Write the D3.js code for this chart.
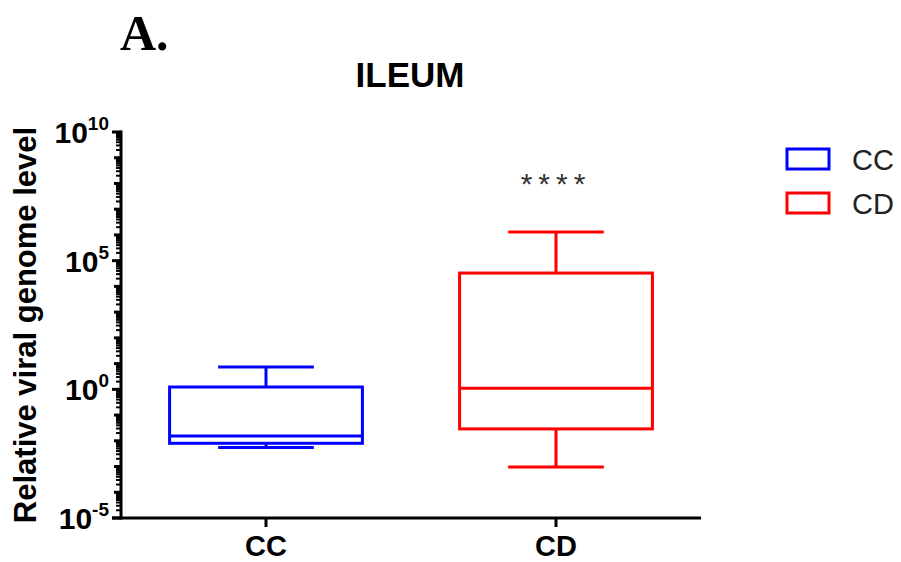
<!DOCTYPE html>
<html>
<head>
<meta charset="utf-8">
<script src="https://cdn.jsdelivr.net/npm/d3@7"></script>
<style>
  body { margin: 0; background: #fff; }
  text { font-family: Arial, "Liberation Sans", sans-serif; }
</style>
</head>
<body>
<div id="chart"></div>
<script>
var width = 901,
    height = 562;

// groups and their box-plot summaries (min, q1, median, q3, max)
var groups = ["CC", "CD"];
var colors = ["#0000ff", "#ff0000"];
var whiskerLow = [0.0055, 0.00095];
var quart1 = [0.0080, 0.029];
var medians = [0.0155, 1.1];
var quart3 = [1.23, 3.3e4];
var whiskerHigh = [7.4, 1.3e6];
var yMajor = [-5, 0, 5, 10]; // exponents of labelled ticks

var margin = {left: 121, right: 200, top: 132, bottom: 44};

var x = d3.scalePoint()
    .domain(groups)
    .range([margin.left, width - margin.right])
    .padding(0.5);

var y = d3.scaleLog()
    .domain([1e-5, 1e10])
    .range([height - margin.bottom, margin.top]);

var boxW = x.step() * 0.665,
    capW = x.step() * 0.33;

var svg = d3.select("#chart").append("svg")
    .attr("width", width)
    .attr("height", height);

// panel letter and title
svg.append("text")
    .attr("x", 120).attr("y", 50)
    .style("font-family", "'Liberation Serif', 'Times New Roman', serif")
    .style("font-weight", "bold")
    .style("font-size", "50px")
    .text("A.");

svg.append("text")
    .attr("x", 410).attr("y", 87)
    .attr("text-anchor", "middle")
    .style("font-weight", "bold")
    .style("font-size", "35px")
    .text("ILEUM");

// y axis: decade and minor ticks
var yAxisG = svg.append("g");
var tickVals = [];
for (var e = -5; e < 10; e++) {
  for (var m = 1; m < 10; m++) tickVals.push({v: m * Math.pow(10, e), m: m, e: e});
}
tickVals.push({v: 1e10, m: 1, e: 10});

yAxisG.selectAll("line.tick")
    .data(tickVals)
    .enter().append("line")
    .attr("class", "tick")
    .attr("x1", margin.left)
    .attr("x2", function(d) {
      if (d.m === 1 && yMajor.indexOf(d.e) >= 0) return margin.left - 9;
      if (d.m === 1) return margin.left - 7;
      return margin.left - 5;
    })
    .attr("y1", function(d) { return y(d.v); })
    .attr("y2", function(d) { return y(d.v); })
    .attr("stroke", "#000")
    .attr("stroke-width", function(d) { return d.m === 1 ? 3 : 2; });

yAxisG.append("line")
    .attr("x1", margin.left).attr("x2", margin.left)
    .attr("y1", y(1e-5) + 1.5).attr("y2", y(1e10) - 1.5)
    .attr("stroke", "#000").attr("stroke-width", 3);

var lbl = yAxisG.selectAll("text.ylab")
    .data(yMajor)
    .enter().append("text")
    .attr("class", "ylab")
    .attr("x", margin.left - 12)
    .attr("y", function(d) { return y(Math.pow(10, d)) + 11; })
    .attr("text-anchor", "end")
    .style("font-weight", "bold")
    .style("font-size", "30px");
lbl.append("tspan").text("10");
lbl.append("tspan")
    .attr("dy", -13)
    .style("font-size", "19px")
    .text(function(d) { return d; });

svg.append("text")
    .attr("transform", "translate(36," + ((y(1e-5) + y(1e10)) / 2) + ") rotate(-90)")
    .attr("text-anchor", "middle")
    .style("font-weight", "bold")
    .style("font-size", "31px")
    .text("Relative viral genome level");

// x axis
svg.append("line")
    .attr("x1", margin.left - 9).attr("x2", width - margin.right)
    .attr("y1", y(1e-5)).attr("y2", y(1e-5))
    .attr("stroke", "#000").attr("stroke-width", 3);

svg.selectAll("line.xtick")
    .data(groups)
    .enter().append("line")
    .attr("class", "xtick")
    .attr("x1", function(d) { return x(d); })
    .attr("x2", function(d) { return x(d); })
    .attr("y1", y(1e-5)).attr("y2", y(1e-5) + 9)
    .attr("stroke", "#000").attr("stroke-width", 3);

svg.selectAll("text.xlab")
    .data(groups)
    .enter().append("text")
    .attr("class", "xlab")
    .attr("x", function(d) { return x(d); })
    .attr("y", 556)
    .attr("text-anchor", "middle")
    .style("font-weight", "bold")
    .style("font-size", "29px")
    .text(function(d) { return d; });

// boxes
var box = svg.selectAll("g.box")
    .data(groups)
    .enter().append("g")
    .attr("class", "box")
    .attr("stroke", function(d, i) { return colors[i]; })
    .attr("stroke-width", 3)
    .attr("fill", "none");

box.append("line")
    .attr("x1", function(d) { return x(d); })
    .attr("x2", function(d) { return x(d); })
    .attr("y1", function(d, i) { return y(whiskerHigh[i]); })
    .attr("y2", function(d, i) { return y(quart3[i]); });

box.append("line")
    .attr("x1", function(d) { return x(d); })
    .attr("x2", function(d) { return x(d); })
    .attr("y1", function(d, i) { return y(quart1[i]); })
    .attr("y2", function(d, i) { return y(whiskerLow[i]); });

box.append("line")
    .attr("x1", function(d) { return x(d) - capW / 2; })
    .attr("x2", function(d) { return x(d) + capW / 2; })
    .attr("y1", function(d, i) { return y(whiskerHigh[i]); })
    .attr("y2", function(d, i) { return y(whiskerHigh[i]); });

box.append("line")
    .attr("x1", function(d) { return x(d) - capW / 2; })
    .attr("x2", function(d) { return x(d) + capW / 2; })
    .attr("y1", function(d, i) { return y(whiskerLow[i]); })
    .attr("y2", function(d, i) { return y(whiskerLow[i]); });

box.append("rect")
    .attr("x", function(d) { return x(d) - boxW / 2; })
    .attr("width", boxW)
    .attr("y", function(d, i) { return y(quart3[i]); })
    .attr("height", function(d, i) { return y(quart1[i]) - y(quart3[i]); })
    .attr("fill", "#fff");

box.append("line")
    .attr("x1", function(d) { return x(d) - boxW / 2; })
    .attr("x2", function(d) { return x(d) + boxW / 2; })
    .attr("y1", function(d, i) { return y(medians[i]); })
    .attr("y2", function(d, i) { return y(medians[i]); });

// significance mark
svg.append("text")
    .attr("x", x("CD"))
    .attr("y", 194)
    .attr("text-anchor", "middle")
    .attr("fill", "#333")
    .style("font-size", "30px")
    .style("letter-spacing", "6px")
    .text("****");

// legend
var leg = svg.selectAll("g.leg")
    .data(groups)
    .enter().append("g")
    .attr("class", "leg")
    .attr("transform", function(d, i) { return "translate(787," + (149 + i * 44) + ")"; });

leg.append("rect")
    .attr("width", 42).attr("height", 20)
    .attr("fill", "none")
    .attr("stroke", function(d, i) { return colors[i]; })
    .attr("stroke-width", 3);

leg.append("text")
    .attr("x", 65).attr("y", 21)
    .attr("fill", "#222")
    .style("font-size", "29px")
    .text(function(d) { return d; });
</script>
</body>
</html>
